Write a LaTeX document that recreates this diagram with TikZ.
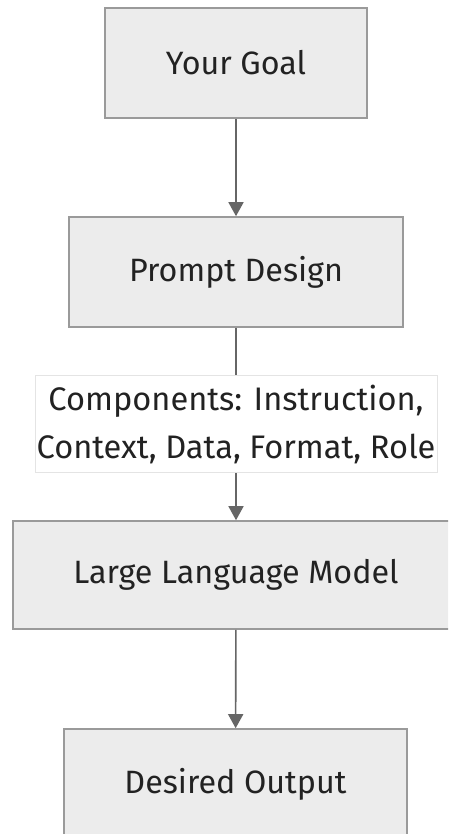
\documentclass[tikz,border=0pt]{standalone}
\usepackage{fontspec}
\setmainfont{Fira Sans}
\usetikzlibrary{arrows.meta}
\definecolor{boxfill}{HTML}{ECECEC}
\definecolor{boxline}{HTML}{9A9A9A}
\definecolor{edgecol}{HTML}{666666}
\definecolor{lblline}{HTML}{E4E4E4}
\definecolor{ink}{HTML}{222222}
\tikzset{
  stepbox/.style={draw=boxline, fill=boxfill, line width=1.6pt, inner sep=0pt,
    font=\fontsize{32.3}{46}\selectfont, text=ink},
  flow/.style={draw=edgecol, line width=1.6pt, -{Triangle[width=15pt,length=14pt]}},
  edgelabel/.style={draw=lblline, fill=white, line width=0.8pt, inner sep=0pt,
    align=center, font=\fontsize{32.6}{48}\selectfont, text=ink,
    minimum width=402pt, minimum height=97pt}
}
\begin{document}
\begin{tikzpicture}[x=1pt, y=-1pt]
  \useasboundingbox (0,0) rectangle (448,834);
  \clip (0,0) rectangle (448,834);
  \node[stepbox, minimum width=262pt, minimum height=110pt] (goal) at (236,63) {Your Goal};
  \node[stepbox, minimum width=334pt, minimum height=110pt] (design) at (236,272) {Prompt Design};
  \node[stepbox, minimum width=446pt, minimum height=108pt] (llm) at (236,575) {Large Language Model};
  \node[stepbox, minimum width=343pt, minimum height=110pt] (out) at (235.5,784) {Desired Output};
  \draw[flow] (goal) -- (design);
  \draw[flow] (design) -- node[edgelabel] (comp) {Components: Instruction,\\Context, Data, Format, Role} (llm);
  \draw[flow] (llm) -- (out);
\end{tikzpicture}
\end{document}
